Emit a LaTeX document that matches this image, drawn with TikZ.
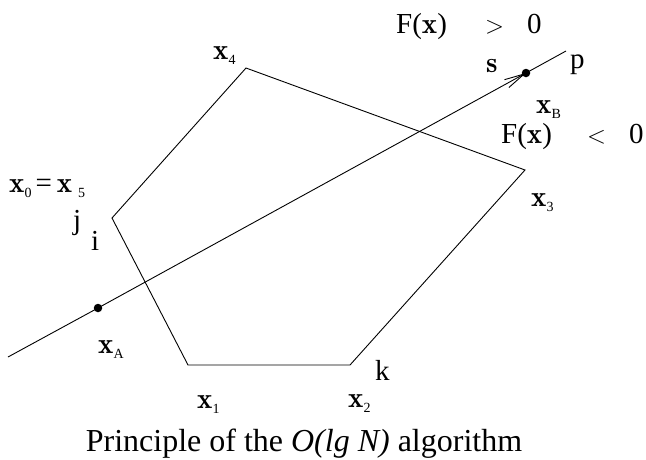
\documentclass[tikz,border=0pt]{standalone}
\usepackage{fontspec}
\setmainfont{Liberation Serif}
\usetikzlibrary{arrows.meta}
\newcommand\bx{{\fontfamily{lmr}\bfseries x}}
\newcommand\sbx[1]{\raisebox{-5pt}{\fontsize{14}{14}\selectfont #1}}
\tikzset{
  lbl/.style={anchor=base west, inner sep=0pt, font=\fontsize{29}{34}\selectfont},
  dot/.style={circle, fill, inner sep=0pt, minimum size=8.5pt},
  edge/.style={line width=0.9pt}
}
\begin{document}
\begin{tikzpicture}[x=1pt,y=-1pt]
\useasboundingbox (0,0) rectangle (646,459);
\coordinate (v0) at (112,218);
\coordinate (v1) at (188,365);
\coordinate (v2) at (350,365);
\coordinate (v3) at (525,170);
\coordinate (v4) at (246,68);
\coordinate (L1) at (8,357);
\coordinate (L2) at (566,51);
\node[dot] (A) at (98,308) {};
\node[dot] (B) at (526,73) {};
\draw[edge] (v0) -- (v1) -- (v2) -- (v3) -- (v4) -- cycle;
\draw[edge] (L1) -- (A.center);
\draw[edge,-{Straight Barb[length=20pt,width=9pt]}] (A.center) -- (B.center);
\draw[edge] (B.center) -- (L2);
% labels
\node[lbl] (Fg) at (396,33) {F(\bx)};
\node[lbl] (gt) at (485,33) {$>$};
\node[lbl] (z1) at (527,33) {0};
\node[lbl] (Fl) at (501,143) {F(\bx)};
\node[lbl] (lt) at (587,143) {$<$};
\node[lbl] (z2) at (629,143) {0};
\node[lbl] (s) at (486,72) {{\fontfamily{lmr}\bfseries s}};
\node[lbl] (p) at (570,68) {p};
\node[lbl] (xB) at (536,113) {\bx\sbx{B}};
\node[lbl] (x3) at (531,206) {\bx\sbx{3}};
\node[lbl] (x4) at (213,59) {\bx\sbx{4}};
\node[lbl] (x05) at (9,192) {\bx\sbx{0}\hspace{4pt}=\hspace{5pt}\bx\hspace{6pt}\sbx{5}};
\node[lbl] (j) at (73,229) {j};
\node[lbl] (i) at (91,250) {i};
\node[lbl] (xA) at (98,353) {\bx\sbx{A}};
\node[lbl] (x1) at (197,408) {\bx\sbx{1}};
\node[lbl] (x2) at (348,407) {\bx\sbx{2}};
\node[lbl] (k) at (375,380) {k};
\node[anchor=base, inner sep=0pt, font=\fontsize{32}{38}\selectfont] (cap) at (304,451) {Principle of the \textit{O(lg N)} algorithm};
\end{tikzpicture}
\end{document}
